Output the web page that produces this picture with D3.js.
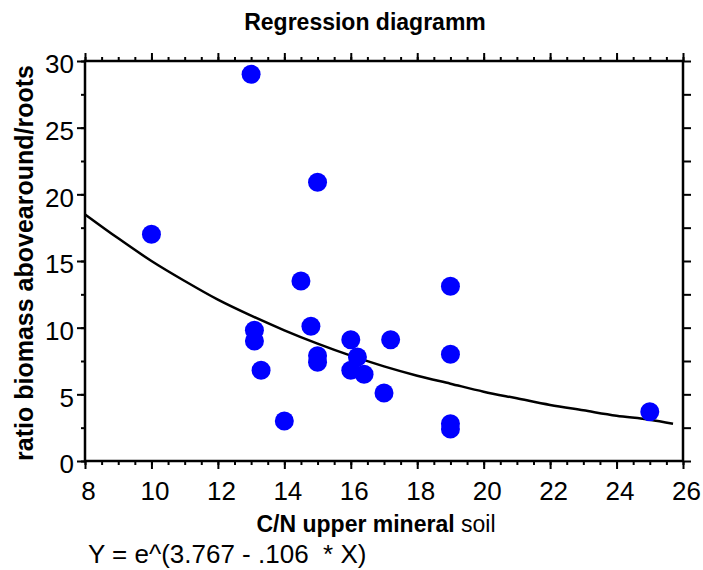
<!DOCTYPE html>
<html>
<head>
<meta charset="utf-8">
<script src="https://cdn.jsdelivr.net/npm/d3@7"></script>
<style>
  body { margin: 0; background: #fff; }
  svg { display: block; font-family: "Liberation Sans", Arial, sans-serif; }
</style>
</head>
<body>
<div id="chart"></div>
<script>
// C/N of the upper mineral soil vs. ratio of aboveground/root biomass
const cnValues = [13.0, 10.0, 15.0, 14.5, 14.8, 13.1, 13.1, 13.3, 14.0, 15.0, 15.0,
                  16.0, 16.2, 16.0, 16.4, 17.2, 17.0, 19.0, 19.0, 19.0, 19.0, 25.0];
const ratioValues = [29.0, 17.0, 20.9, 13.5, 10.1, 9.8, 9.0, 6.8, 3.0, 7.9, 7.4,
                     9.1, 7.8, 6.8, 6.5, 9.1, 5.1, 13.1, 8.0, 2.8, 2.4, 3.7];

// regression curve
const curveX = [8, 9, 10, 11, 12, 13, 14, 15, 16, 17, 18, 19, 20, 21, 22, 23, 24, 25, 25.7];
const curveY = [18.5, 16.7, 15.0, 13.5, 12.1, 10.9, 9.8, 8.8, 7.9, 7.1, 6.4, 5.8, 5.2, 4.7, 4.2, 3.8, 3.4, 3.1, 2.8];

const xMajorTicks = [8, 10, 12, 14, 16, 18, 20, 22, 24, 26];
const yMajorTicks = [0, 5, 10, 15, 20, 25, 30];

const width = 703, height = 570;
const margin = { top: 61, right: 20, bottom: 109, left: 85 };

const svg = d3.select("#chart").append("svg")
    .attr("width", width)
    .attr("height", height);

const x = d3.scaleLinear().domain([8, 26]).range([margin.left, width - margin.right]);
const y = d3.scaleLinear().domain([0, 30]).range([height - margin.bottom, margin.top]);

const xMinor = d3.range(8, 26.01, 0.5);
const yMinor = d3.range(0, 30.01, 2.5);

function styleAxis(g) {
    g.select(".domain").remove();
    g.selectAll(".tick line").attr("stroke", "#000").attr("stroke-width", 2);
}

// bottom axis: minor + major with labels
svg.append("g")
    .attr("transform", `translate(0,${y(0)})`)
    .call(d3.axisBottom(x).tickValues(xMinor).tickSize(4).tickFormat(""))
    .call(styleAxis);
svg.append("g")
    .attr("transform", `translate(0,${y(0)})`)
    .call(d3.axisBottom(x).tickValues(xMajorTicks).tickSize(8).tickPadding(13).tickFormat(d3.format("d")))
    .call(styleAxis)
    .call(g => g.selectAll("text")
        .attr("fill", "#000")
        .attr("font-size", 26)
        .attr("font-family", "Liberation Sans, Arial, sans-serif")
        .attr("dx", 3));

// top axis
svg.append("g")
    .attr("transform", `translate(0,${y(30)})`)
    .call(d3.axisTop(x).tickValues(xMinor).tickSize(4).tickFormat(""))
    .call(styleAxis);
svg.append("g")
    .attr("transform", `translate(0,${y(30)})`)
    .call(d3.axisTop(x).tickValues(xMajorTicks).tickSize(8).tickFormat(""))
    .call(styleAxis);

// left axis
svg.append("g")
    .attr("transform", `translate(${x(8)},0)`)
    .call(d3.axisLeft(y).tickValues(yMinor).tickSize(4).tickFormat(""))
    .call(styleAxis);
svg.append("g")
    .attr("transform", `translate(${x(8)},0)`)
    .call(d3.axisLeft(y).tickValues(yMajorTicks).tickSize(8).tickPadding(3).tickFormat(d3.format("d")))
    .call(styleAxis)
    .call(g => g.selectAll("text")
        .attr("fill", "#000")
        .attr("font-size", 26)
        .attr("font-family", "Liberation Sans, Arial, sans-serif")
        .attr("dy", "0.45em"));

// right axis
svg.append("g")
    .attr("transform", `translate(${x(26)},0)`)
    .call(d3.axisRight(y).tickValues(yMinor).tickSize(8).tickFormat(""))
    .call(styleAxis);

// frame
svg.append("rect")
    .attr("x", x(8))
    .attr("y", y(30))
    .attr("width", x(26) - x(8))
    .attr("height", y(0) - y(30))
    .attr("fill", "none")
    .attr("stroke", "#000")
    .attr("stroke-width", 2.5);

// regression curve
const line = d3.line()
    .x(i => x(curveX[i]))
    .y(i => y(curveY[i]))
    .curve(d3.curveMonotoneX);

svg.append("path")
    .attr("d", line(d3.range(curveX.length)))
    .attr("fill", "none")
    .attr("stroke", "#000")
    .attr("stroke-width", 2.5);

// points
svg.append("g")
    .selectAll("circle")
    .data(d3.range(cnValues.length))
    .join("circle")
    .attr("cx", i => x(cnValues[i]))
    .attr("cy", i => y(ratioValues[i]))
    .attr("r", 9.5)
    .attr("fill", "#0000ff");

// title
svg.append("text")
    .attr("x", 365)
    .attr("y", 30)
    .attr("text-anchor", "middle")
    .attr("font-size", 23)
    .attr("font-weight", "bold")
    .text("Regression diagramm");

// y label
svg.append("text")
    .attr("transform", `translate(33,263) rotate(-90)`)
    .attr("text-anchor", "middle")
    .attr("font-size", 25)
    .attr("font-weight", "bold")
    .text("ratio biomass abovearound/roots");

// x label
const xl = svg.append("text")
    .attr("x", 376)
    .attr("y", 532)
    .attr("text-anchor", "middle")
    .attr("font-size", 23);
xl.append("tspan").attr("font-weight", "bold").text("C/N upper mineral ");
xl.append("tspan").text("soil");

// formula
svg.append("text")
    .attr("x", 88)
    .attr("y", 563)
    .attr("font-size", 26)
    .attr("xml:space", "preserve")
    .style("white-space", "pre")
    .text("Y = e^(3.767 - .106  * X)");
</script>
</body>
</html>
